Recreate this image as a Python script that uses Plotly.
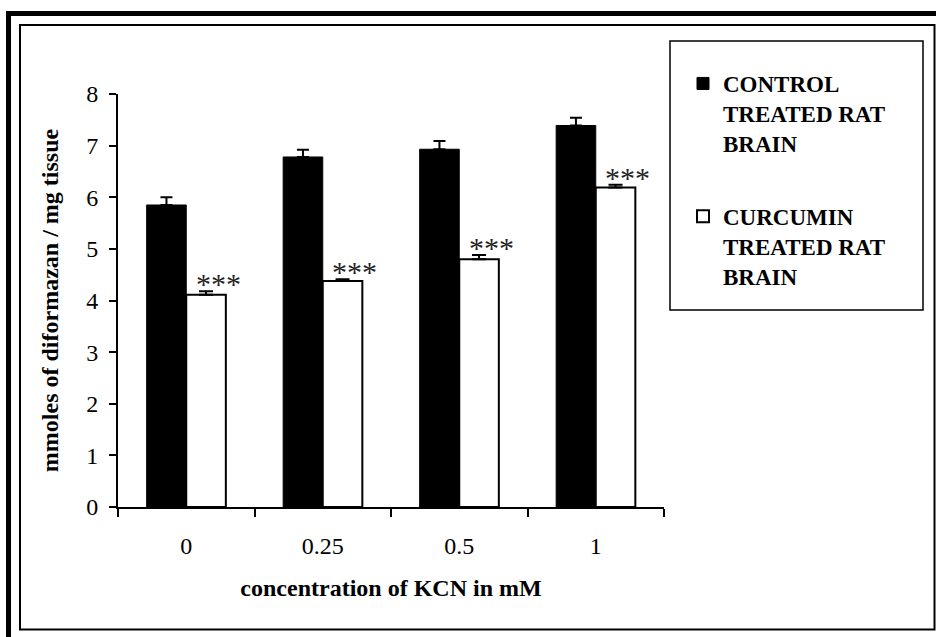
import plotly.graph_objects as go

# ---- data ----
categories = ["0", "0.25", "0.5", "1"]
control_values = [5.85, 6.78, 6.93, 7.39]
control_errors = [0.15, 0.14, 0.16, 0.15]
curcumin_values = [4.11, 4.38, 4.80, 6.19]
curcumin_errors = [0.07, 0.03, 0.08, 0.05]
significance = ["***", "***", "***", "***"]
y_ticks = [0, 1, 2, 3, 4, 5, 6, 7, 8]

SERIF = "Liberation Serif, Times New Roman, serif"
W, H = 936, 637
ML, MR, MT, MB = 118, 272, 94, 130
PW, PH = W - ML - MR, H - MT - MB


def px_x(x):
    return (x - ML) / PW


def px_y(y):
    return 1 - (y - MT) / PH


fig = go.Figure()
fig.add_trace(go.Bar(
    x=categories, y=control_values, name="CONTROL<br>TREATED RAT<br>BRAIN",
    legendgroup="control",
    marker=dict(color="black", line=dict(color="black", width=1)),
    error_y=dict(type="data", array=control_errors, arrayminus=[0] * 4,
                 symmetric=False, color="black", thickness=2, width=6),
))
fig.add_trace(go.Bar(
    x=categories, y=curcumin_values, name="CURCUMIN<br>TREATED RAT<br>BRAIN",
    legendgroup="curcumin",
    marker=dict(color="white", line=dict(color="black", width=2)),
    error_y=dict(type="data", array=curcumin_errors, arrayminus=[0] * 4,
                 symmetric=False, color="black", thickness=2, width=7),
))

annotations = []
for i, (v, e, s) in enumerate(zip(curcumin_values, curcumin_errors, significance)):
    annotations.append(dict(
        x=i, y=v + e, xref="x", yref="y", text=s, showarrow=False,
        xanchor="center", yanchor="bottom", xshift=32, yshift=-11,
        font=dict(family=SERIF, size=30, color="#222"),
    ))

shapes = [
    # outer thick frame
    dict(type="rect", xref="paper", yref="paper",
         x0=px_x(8.5), x1=px_x(950), y0=px_y(13.5), y1=px_y(650),
         line=dict(color="black", width=5)),
    # inner thin frame
    dict(type="rect", xref="paper", yref="paper",
         x0=px_x(20), x1=px_x(934.5), y0=px_y(25), y1=px_y(629.5),
         line=dict(color="black", width=2)),
    # legend box
    dict(type="rect", xref="paper", yref="paper",
         x0=px_x(670), x1=px_x(923), y0=px_y(41), y1=px_y(310),
         line=dict(color="black", width=1.5)),
]

fig.update_layout(
    width=W, height=H,
    margin=dict(l=ML, r=MR, t=MT, b=MB, autoexpand=False),
    paper_bgcolor="white", plot_bgcolor="white",
    barmode="group", bargap=0.42, bargroupgap=0,
    font=dict(family=SERIF, color="black"),
    showlegend=True,
    legend=dict(
        x=px_x(683), y=px_y(62), xanchor="left", yanchor="top",
        bgcolor="rgba(0,0,0,0)", borderwidth=0,
        font=dict(family=SERIF, size=23, color="black", weight="bold"),
        traceorder="grouped", tracegroupgap=40, valign="top",
    ),
    xaxis=dict(
        type="category", tickson="boundaries", ticks="outside", ticklen=8,
        tickwidth=2, tickcolor="black", showline=True, linecolor="black",
        linewidth=2, showgrid=False, zeroline=False,
        tickfont=dict(family=SERIF, size=24, color="black"),
        ticklabelstandoff=16,
        title=dict(text="concentration of KCN in mM", standoff=21,
                   font=dict(family=SERIF, size=24, color="black", weight="bold")),
    ),
    yaxis=dict(
        range=[0, 8], tickvals=y_ticks, ticks="outside", ticklen=7,
        tickwidth=2, tickcolor="black", showline=True, linecolor="black",
        linewidth=2, showgrid=False, zeroline=False,
        tickfont=dict(family=SERIF, size=24, color="black"),
        ticklabelstandoff=6,
        title=dict(text="mmoles of diformazan / mg tissue", standoff=21,
                   font=dict(family=SERIF, size=24, color="black", weight="bold")),
    ),
    annotations=annotations,
    shapes=shapes,
)

fig.write_html("out.html", config={"displayModeBar": False},
               post_script="document.body.style.margin='0px';")
